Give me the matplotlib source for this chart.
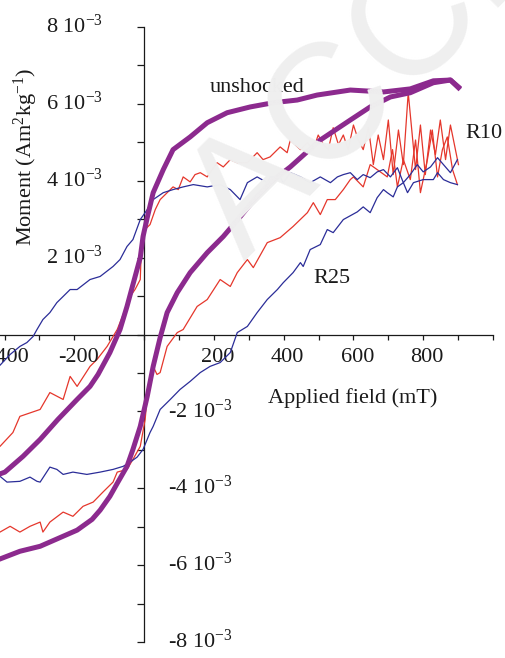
import matplotlib
matplotlib.use('Agg')
import numpy as np
import matplotlib.pyplot as plt
from matplotlib.transforms import offset_copy

plt.rcParams['font.family'] = 'Liberation Serif'
plt.rcParams['mathtext.fontset'] = 'custom'
plt.rcParams['mathtext.rm'] = 'Liberation Serif'
plt.rcParams['mathtext.it'] = 'Liberation Serif:italic'

# field in mT, moment in 1e-3 Am2/kg
# unshocked: descending branch, then ascending branch
unsh_down_x = [901, 878, 829, 763, 686, 591, 496, 439, 370, 304, 238, 181, 132, 83, 55, 26, 9, -3,
               -11, -32, -49, -69, -98, -132, -155, -192, -247, -298, -347, -399, -450]
unsh_down_y = [6.44, 6.62, 6.60, 6.39, 6.31, 6.36, 6.23, 6.10, 6.03, 5.92, 5.77, 5.51, 5.14, 4.81, 4.29,
               3.69, 3.04, 2.55, 2.00, 1.30, 0.73, 0.13, -0.47, -1.04, -1.35, -1.69, -2.21, -2.73,
               -3.17, -3.58, -3.75]
unsh_up_x = [-450, -413, -356, -298, -250, -192, -149, -126, -98, -75, -49, -32, -11, 9, 26, 46, 66, 95,
             132, 181, 227, 275, 313, 361, 419, 505, 591, 648, 706, 763, 829, 878, 901]
unsh_up_y = [-5.95, -5.84, -5.64, -5.51, -5.32, -5.09, -4.81, -4.57, -4.21, -3.84, -3.43, -2.99, -2.39,
             -1.61, -0.83, -0.08, 0.57, 1.09, 1.61, 2.13, 2.55, 3.06, 3.48, 3.95, 4.36, 5.06, 5.58,
             5.92, 6.18, 6.29, 6.55, 6.62, 6.42]

# R10
r10_down_x = [901, 878, 864, 849, 835, 821, 806, 792, 778, 757, 743, 729, 714, 700, 686, 671, 657, 643,
              628, 614, 600, 585, 571, 557, 542, 528, 514, 499, 485, 468, 448, 419, 410, 390, 361, 341,
              324, 296, 267, 247, 227, 209, 181, 161, 146, 132, 112, 98, 83, 46, 32, 17, -3, -9, -11,
              -26, -40, -60, -77, -106, -135, -155, -192, -212, -232, -270, -298, -356, -376, -413,
              -450]
r10_down_y = [4.42, 5.45, 4.55, 5.58, 4.68, 5.32, 4.16, 5.45, 4.29, 6.29, 4.42, 5.32, 4.16, 5.58, 4.55,
              5.19, 4.42, 5.38, 4.81, 5.06, 5.45, 4.81, 5.19, 4.94, 5.38, 4.81, 4.94, 5.19, 4.81, 4.99,
              4.81, 5.06, 4.73, 4.88, 4.62, 4.55, 4.73, 4.47, 4.47, 4.55, 4.36, 4.47, 4.10, 4.21, 4.16,
              3.97, 4.10, 3.77, 3.84, 3.51, 3.25, 2.86, 2.68, 1.95, 1.43, 1.17, 0.99, 0.52, 0.13,
              -0.31, -0.65, -0.83, -1.35, -1.09, -1.69, -1.51, -1.95, -2.13, -2.55, -2.91, -3.00]
r10_up_x = [-450, -413, -384, -356, -327, -298, -290, -270, -232, -204, -175, -146, -118, -89, -77, -49,
            -32, -11, 3, 9, 17, 26, 37, 46, 66, 95, 112, 152, 181, 218, 247, 267, 296, 313, 353, 390,
            427, 468, 485, 505, 525, 548, 571, 591, 600, 628, 648, 668, 697, 712, 726, 743, 763, 778,
            792, 812, 826, 841, 855, 869, 884, 898]
r10_up_y = [-5.20, -5.14, -4.99, -5.14, -4.99, -4.88, -5.14, -4.88, -4.62, -4.73, -4.47, -4.36, -4.10,
            -3.84, -3.58, -3.51, -3.25, -2.91, -2.21, -1.61, -1.17, -0.83, -1.04, -0.99, -0.31, 0.05,
            0.13, 0.73, 0.91, 1.43, 1.25, 1.61, 1.95, 1.74, 2.39, 2.52, 2.81, 3.17, 3.43, 3.12, 3.51,
            3.51, 3.77, 4.03, 4.10, 3.84, 4.42, 4.29, 4.10, 4.81, 3.84, 4.55, 4.03, 5.06, 3.69, 4.55,
            5.32, 4.10, 4.81, 5.14, 4.29, 3.90]

# R25
r25_down_x = [898, 878, 858, 841, 821, 800, 783, 763, 743, 726, 706, 686, 668, 648, 628, 611, 591, 571,
              554, 534, 505, 476, 448, 419, 399, 390, 361, 353, 324, 296, 275, 247, 218, 181, 141, 112,
              83, 55, 26, 9, -11, -32, -49, -69, -89, -126, -155, -192, -212, -232, -250, -270, -290,
              -307, -318, -336, -356, -384, -413, -450]
r25_down_y = [4.55, 4.21, 4.42, 4.60, 4.36, 4.23, 4.42, 4.16, 3.95, 4.34, 4.10, 4.29, 4.23, 4.08, 4.16,
              4.03, 4.21, 4.16, 4.10, 3.95, 4.10, 3.95, 4.10, 4.21, 3.95, 4.10, 4.10, 3.95, 4.10, 3.95,
              3.51, 3.77, 3.90, 3.84, 3.90, 3.84, 3.77, 3.69, 3.51, 3.25, 2.99, 2.47, 2.29, 1.95, 1.77,
              1.51, 1.43, 1.17, 1.17, 0.99, 0.83, 0.57, 0.39, 0.13, -0.05, -0.21, -0.31, -0.52, -0.80,
              -0.95]
r25_up_x = [-450, -413, -393, -356, -327, -307, -298, -270, -250, -232, -204, -164, -126, -89, -60, -40,
            -20, -3, 17, 26, 46, 75, 103, 132, 161, 189, 218, 247, 267, 296, 324, 353, 382, 399, 427,
            448, 456, 476, 505, 525, 542, 571, 611, 628, 648, 668, 686, 697, 714, 726, 743, 755, 772,
            800, 829, 841, 858, 878, 898]
r25_up_y = [-3.65, -3.69, -3.84, -3.82, -3.71, -3.82, -3.84, -3.45, -3.51, -3.64, -3.58, -3.64, -3.58,
            -3.51, -3.43, -3.32, -3.19, -2.99, -2.55, -2.39, -1.95, -1.69, -1.43, -1.22, -0.99, -0.83,
            -0.73, -0.47, 0.05, 0.21, 0.57, 0.91, 1.17, 1.35, 1.61, 1.87, 1.77, 2.21, 2.34, 2.73, 2.65,
            2.99, 3.19, 3.32, 3.17, 3.56, 3.77, 3.69, 3.58, 3.84, 3.95, 3.69, 3.95, 4.03, 4.03, 4.21,
            4.03, 3.95, 3.90]

xtick_vals = [-400, -200, 200, 400, 600, 800]
ytick_vals = [8, 6, 4, 2, -2, -4, -6, -8]

purple = '#8c2a8e'
red = '#e5372c'
blue = '#2b2d98'
ink = '#1a1a1a'

fig = plt.figure(figsize=(5.06, 6.58), dpi=100)
ax = fig.add_axes([0, 16 / 658, 493 / 506, 615 / 658])
ax.patch.set_visible(False)

# faint watermark behind everything
fig.text(0.484, 0.602, 'ACCEPTED MANUSCRIPT', rotation=45, rotation_mode='anchor',
         ha='left', va='baseline', fontsize=118, color='#efefef', family='Liberation Sans',
         zorder=0)

ax.plot(r10_down_x, np.array(r10_down_y) * 1e-3, color=red, lw=0.9, zorder=3)
ax.plot(r10_up_x, np.array(r10_up_y) * 1e-3, color=red, lw=0.9, zorder=3)
ax.plot(r25_down_x, np.array(r25_down_y) * 1e-3, color=blue, lw=0.9, zorder=4)
ax.plot(r25_up_x, np.array(r25_up_y) * 1e-3, color=blue, lw=0.9, zorder=4)
ax.plot(unsh_down_x, np.array(unsh_down_y) * 1e-3, color=purple, lw=3.6, zorder=5,
        solid_joinstyle='round')
ax.plot(unsh_up_x, np.array(unsh_up_y) * 1e-3, color=purple, lw=3.6, zorder=5,
        solid_joinstyle='round')

ax.set_xlim(-413, 1000)
ax.set_ylim(-8e-3, 8e-3)

for side in ['top', 'right']:
    ax.spines[side].set_visible(False)
ax.spines['left'].set_position(('data', 0))
ax.spines['bottom'].set_position(('data', 0))
for side in ['left', 'bottom']:
    ax.spines[side].set_linewidth(0.9)
    ax.spines[side].set_color(ink)

ax.set_xticks(np.arange(-400, 1001, 100))
ax.set_yticks(np.arange(-8, 9) * 1e-3)
ax.set_xticklabels([])
ax.set_yticklabels([])
ax.tick_params(axis='x', direction='out', length=3.6, width=0.9, color=ink)
ax.tick_params(axis='y', direction='out', length=5, width=0.9, color=ink)

for v in xtick_vals:
    tr = offset_copy(ax.transData, fig=fig, x=4, y=-28, units='dots')
    ax.text(v, 0, str(v), transform=tr, ha='center', va='baseline', fontsize=16, color=ink)

for v in ytick_vals:
    if v > 0:
        tr = offset_copy(ax.transData, fig=fig, x=-41, y=-6, units='dots')
        ax.text(0, v * 1e-3, '%d 10$^{-3}$' % v, transform=tr, ha='right', va='baseline',
                fontsize=16, color=ink)
    else:
        tr = offset_copy(ax.transData, fig=fig, x=24, y=-6, units='dots')
        ax.text(0, v * 1e-3, '-%d 10$^{-3}$' % abs(v), transform=tr, ha='left', va='baseline',
                fontsize=16, color=ink)

fig.text(268 / 506, 1 - 403 / 658, 'Applied field (mT)', ha='left', va='baseline',
         fontsize=16, color=ink)
fig.text(32 / 506, 1 - 157 / 658, 'Moment (Am$^2$kg$^{-1}$)', rotation=90,
         rotation_mode='anchor', ha='center', va='baseline', fontsize=16, color=ink)

ax.text(189, 6.31e-3, 'unshocked', ha='left', va='baseline', fontsize=16, color=ink, zorder=6)
ax.text(921, 5.12e-3, 'R10', ha='left', va='baseline', fontsize=16, color=ink, zorder=6)
ax.text(485, 1.35e-3, 'R25', ha='left', va='baseline', fontsize=16, color=ink, zorder=6)

fig.savefig('out.png', dpi=100)
